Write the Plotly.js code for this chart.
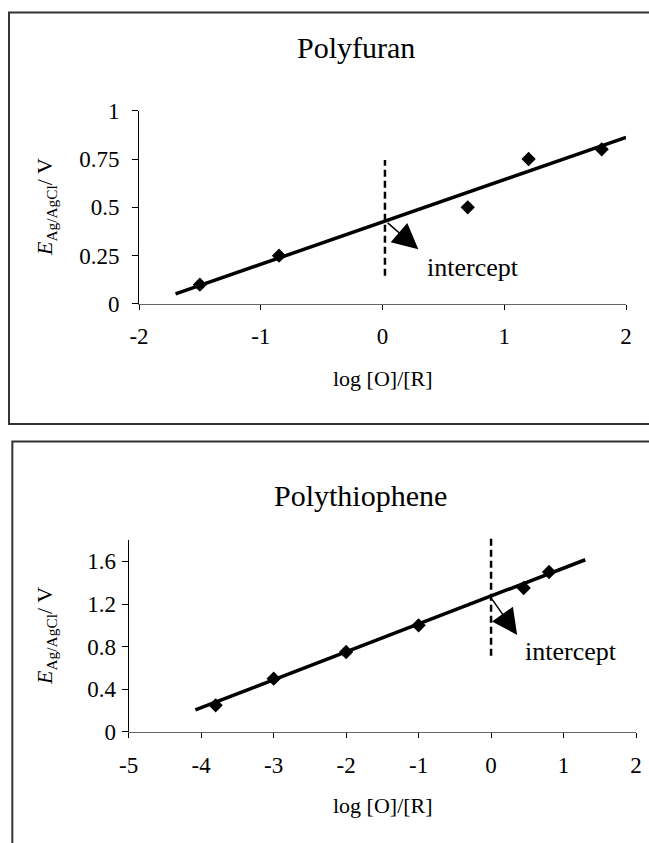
<!DOCTYPE html>
<html>
<head>
<meta charset="utf-8">
<script src="https://cdn.plot.ly/plotly-3.0.1.min.js"></script>
<style>
  html, body { margin: 0; padding: 0; background: #fff; }
  #chart { width: 649px; height: 843px; }
</style>
</head>
<body>
<div id="chart"></div>
<script>
// Polyfuran: potential vs log([O]/[R])
const furanLogRatio = [-1.5, -0.85, 0.7, 1.2, 1.8];
const furanPotential = [0.1, 0.25, 0.5, 0.75, 0.8];
const furanFitX = [-1.7, 2.0];
const furanFitY = [0.052, 0.862];
const furanMarkX = [0.02, 0.02];
const furanMarkY = [0.146, 0.745];
const furanArrowFrom = [0.03, 0.426];
const furanArrowTo = [0.294, 0.283];

// Polythiophene: potential vs log([O]/[R])
const thioLogRatio = [-3.8, -3.0, -2.0, -1.0, 0.45, 0.8];
const thioPotential = [0.25, 0.5, 0.75, 1.0, 1.35, 1.5];
const thioFitX = [-4.08, 1.3];
const thioFitY = [0.207, 1.615];
const thioMarkX = [0.0, 0.0];
const thioMarkY = [0.714, 1.834];
const thioArrowFrom = [0.0, 1.257];
const thioArrowTo = [0.36, 0.91];

// tick labels (plain hyphen for negatives)
const furanXTicks = [-2, -1, 0, 1, 2];
const furanXTickText = ['-2', '-1', '0', '1', '2'];
const furanYTicks = [0, 0.25, 0.5, 0.75, 1];
const furanYTickText = ['0', '0.25', '0.5', '0.75', '1'];
const thioXTicks = [-5, -4, -3, -2, -1, 0, 1, 2];
const thioXTickText = ['-5', '-4', '-3', '-2', '-1', '0', '1', '2'];
const thioYTicks = [0, 0.4, 0.8, 1.2, 1.6];
const thioYTickText = ['0', '0.4', '0.8', '1.2', '1.6'];

const titles = ['Polyfuran', 'Polythiophene'];
const xLabel = 'log [O]/[R]';
const yLabel = '<i>E</i><sub>Ag/AgCl</sub>/ V';
const calloutText = 'intercept';

const serif = 'Liberation Serif, Times New Roman, serif';

const markerStyle = { symbol: 'diamond', size: 11, color: '#000' };
const fitStyle = { color: '#000', width: 3.5 };

const traces = [
  { x: furanFitX, y: furanFitY, mode: 'lines', line: fitStyle, xaxis: 'x', yaxis: 'y', hoverinfo: 'skip' },
  { x: furanLogRatio, y: furanPotential, mode: 'markers', marker: markerStyle, xaxis: 'x', yaxis: 'y' },
  { x: thioFitX, y: thioFitY, mode: 'lines', line: fitStyle, xaxis: 'x2', yaxis: 'y2', hoverinfo: 'skip' },
  { x: thioLogRatio, y: thioPotential, mode: 'markers', marker: markerStyle, xaxis: 'x2', yaxis: 'y2' }
];

const tickFont = { family: serif, size: 23, color: '#000' };

function xAxis(domain, anchor, range, vals, text, standoff) {
  return {
    domain: domain, anchor: anchor, range: range,
    tickmode: 'array', tickvals: vals, ticktext: text,
    showgrid: false, zeroline: false, showline: true, linecolor: '#666', linewidth: 1.5,
    ticks: 'outside', ticklen: 5, tickcolor: '#000', tickwidth: 1,
    tickfont: tickFont, ticklabelstandoff: standoff, fixedrange: true
  };
}
function yAxis(domain, anchor, range, vals, text, standoff) {
  return {
    domain: domain, anchor: anchor, range: range,
    tickmode: 'array', tickvals: vals, ticktext: text,
    showgrid: false, zeroline: false, showline: true, linecolor: '#000', linewidth: 1,
    ticks: 'outside', ticklen: 6, tickcolor: '#000', tickwidth: 1,
    tickfont: tickFont, ticklabelstandoff: standoff, fixedrange: true
  };
}

function arrow(xa, ya, from, to) {
  return {
    xref: xa, yref: ya, axref: xa, ayref: ya,
    x: to[0], y: to[1], ax: from[0], ay: from[1],
    text: '', showarrow: true, arrowhead: 2, arrowsize: 3.4, arrowwidth: 1.5,
    arrowcolor: '#000', standoff: 0, startstandoff: 0
  };
}
function label(text, x, y, size, extra) {
  return Object.assign({
    xref: 'paper', yref: 'paper', x: x, y: y, text: text, showarrow: false,
    xanchor: 'center', yanchor: 'middle', font: { family: serif, size: size, color: '#000' }
  }, extra || {});
}

const layout = {
  width: 649, height: 843,
  margin: { l: 0, r: 0, t: 0, b: 0 },
  paper_bgcolor: '#fff', plot_bgcolor: '#fff',
  showlegend: false,
  xaxis: xAxis([0.2142, 0.9646], 'y', [-2, 2], furanXTicks, furanXTickText, 6),
  yaxis: yAxis([0.6394, 0.8687], 'x', [0, 1], furanYTicks, furanYTickText, 8),
  xaxis2: xAxis([0.1983, 0.9800], 'y2', [-5, 2], thioXTicks, thioXTickText, 7),
  yaxis2: yAxis([0.1317, 0.3594], 'x2', [0, 1.8], thioYTicks, thioYTickText, 1),
  shapes: [
    // panel frames
    { type: 'rect', xref: 'paper', yref: 'paper', x0: 0.0139, x1: 1.05, y0: 0.497, y1: 0.9852,
      line: { color: '#333', width: 2 } },
    { type: 'rect', xref: 'paper', yref: 'paper', x0: 0.019, x1: 1.05, y0: -0.05, y1: 0.4763,
      line: { color: '#333', width: 2 } },
    // dashed markers at log [O]/[R] = 0
    { type: 'line', xref: 'x', yref: 'y', x0: furanMarkX[0], x1: furanMarkX[1], y0: furanMarkY[0], y1: furanMarkY[1],
      line: { color: '#000', width: 2.5, dash: '7px,4px' } },
    { type: 'line', xref: 'x2', yref: 'y2 domain', x0: thioMarkX[0], x1: thioMarkX[1],
      y0: thioMarkY[0] / 1.8, y1: thioMarkY[1] / 1.8,
      line: { color: '#000', width: 2.5, dash: '7px,4px' } }
  ],
  annotations: [
    label(titles[0], 0.5485, 0.9437, 30),
    label(titles[1], 0.556, 0.4126, 30),
    label(xLabel, 0.590, 0.5516, 22),
    label(xLabel, 0.590, 0.0439, 22),
    label(yLabel, 0.0709, 0.7544, 22, { textangle: -90 }),
    label(yLabel, 0.0709, 0.2456, 22, { textangle: -90 }),
    arrow('x', 'y', furanArrowFrom, furanArrowTo),
    arrow('x2', 'y2', thioArrowFrom, thioArrowTo),
    { xref: 'x', yref: 'y', x: 0.743, y: 0.19, text: calloutText, showarrow: false,
      xanchor: 'center', yanchor: 'middle', font: { family: serif, size: 26, color: '#000' } },
    { xref: 'x2', yref: 'y2', x: 1.10, y: 0.752, text: calloutText, showarrow: false,
      xanchor: 'center', yanchor: 'middle', font: { family: serif, size: 26, color: '#000' } }
  ]
};

Plotly.newPlot('chart', traces, layout, { displayModeBar: false, staticPlot: true });
</script>
</body>
</html>
